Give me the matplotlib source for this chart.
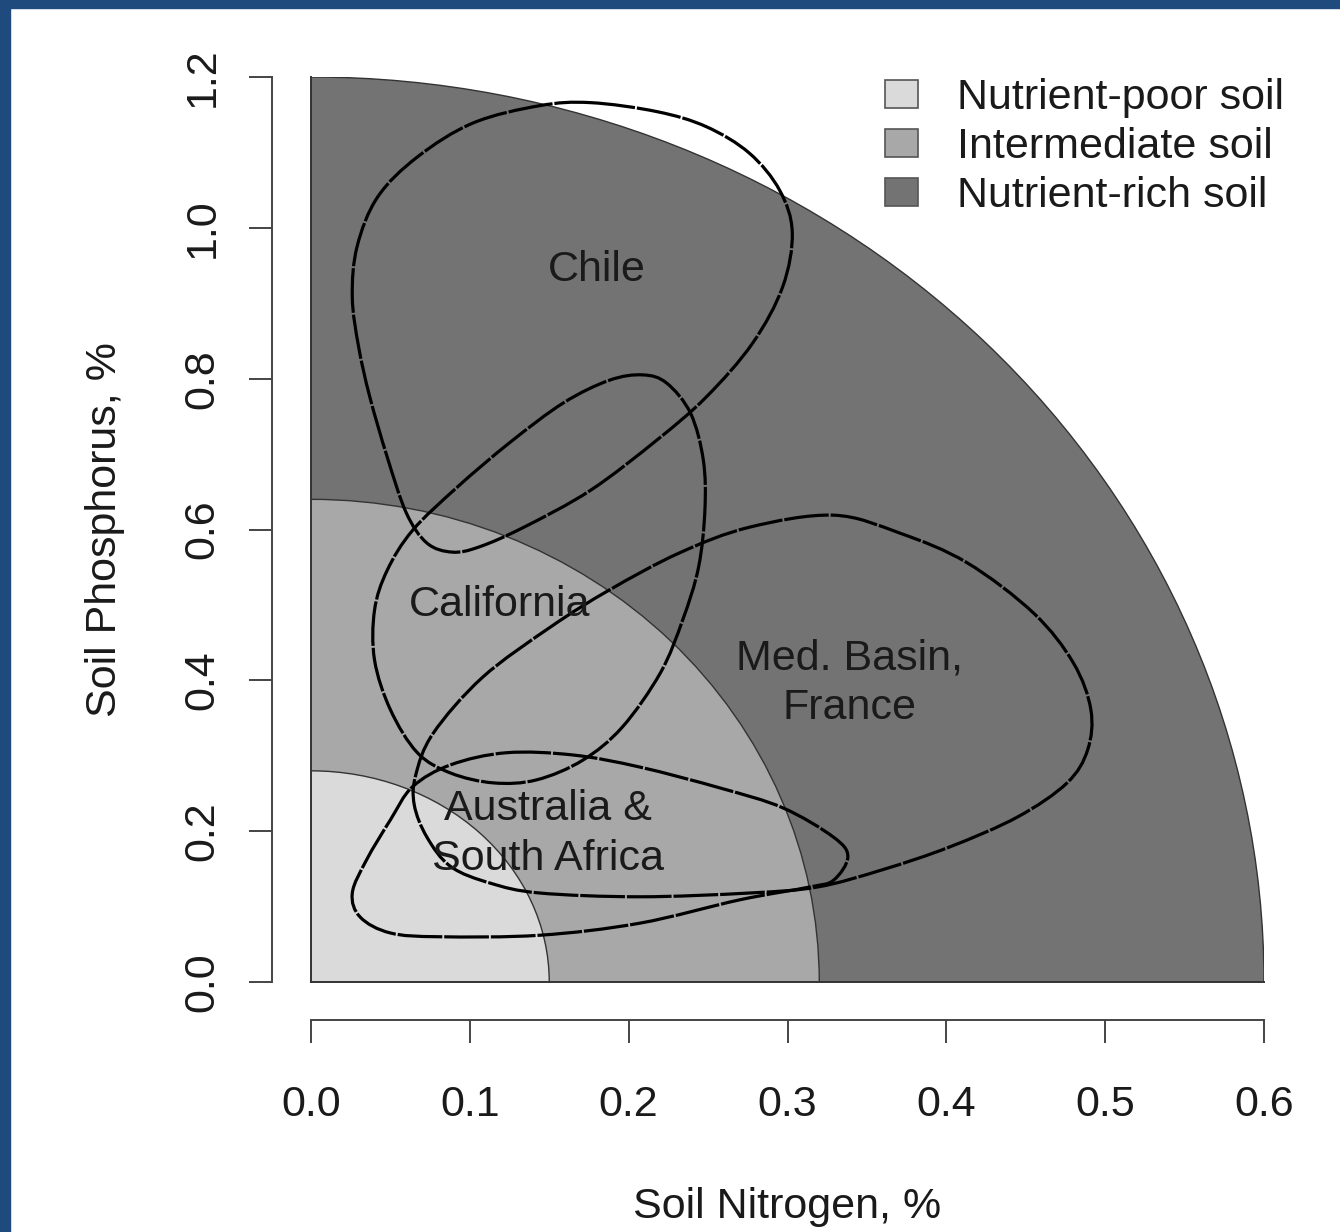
import matplotlib
matplotlib.use("Agg")
import matplotlib.pyplot as plt
from matplotlib.patches import Ellipse, Patch, PathPatch, Rectangle
from matplotlib.path import Path
import numpy as np

plt.rcParams["font.family"] = ["Liberation Sans", "DejaVu Sans"]

# soil classes: extent along N and P axes (quarter ellipses around the origin)
soil_names = ["Nutrient-rich soil", "Intermediate soil", "Nutrient-poor soil"]
soil_n_max = [0.60, 0.32, 0.15]
soil_p_max = [1.20, 0.64, 0.28]
soil_colors = ["#737373", "#a8a8a8", "#dadada"]

# regional outlines (soil N %, soil P %), clockwise
chile_n = [0.176, 0.218, 0.249, 0.276, 0.295, 0.303, 0.297, 0.278, 0.249, 0.218, 0.176, 0.134, 0.106,
           0.089, 0.073, 0.060, 0.048, 0.037, 0.030, 0.026, 0.029, 0.042, 0.067, 0.102, 0.144]
chile_p = [1.166, 1.154, 1.134, 1.099, 1.050, 0.994, 0.922, 0.847, 0.776, 0.719, 0.652, 0.603, 0.577,
           0.570, 0.582, 0.622, 0.696, 0.776, 0.842, 0.908, 0.975, 1.041, 1.094, 1.139, 1.162]

calif_n = [0.209, 0.224, 0.239, 0.247, 0.248, 0.244, 0.234, 0.220, 0.196, 0.171, 0.142, 0.115,
           0.088, 0.067, 0.050, 0.040, 0.040, 0.048, 0.064, 0.092, 0.125, 0.159, 0.188]
calif_p = [0.805, 0.794, 0.754, 0.692, 0.626, 0.550, 0.480, 0.410, 0.338, 0.294, 0.268, 0.264,
           0.277, 0.304, 0.361, 0.427, 0.493, 0.546, 0.599, 0.656, 0.715, 0.768, 0.798]

med_n = [0.329, 0.371, 0.413, 0.455, 0.480, 0.491, 0.489, 0.476, 0.445, 0.402, 0.360, 0.319, 0.276,
         0.207, 0.144, 0.113, 0.088, 0.073, 0.065, 0.066, 0.077, 0.108, 0.151, 0.188, 0.232, 0.276]
med_p = [0.619, 0.595, 0.556, 0.489, 0.423, 0.361, 0.308, 0.264, 0.219, 0.179, 0.149, 0.126, 0.118,
         0.113, 0.118, 0.131, 0.153, 0.192, 0.235, 0.275, 0.330, 0.404, 0.471, 0.520, 0.569, 0.603]

aus_n = [0.123, 0.165, 0.207, 0.258, 0.297, 0.329, 0.338, 0.329, 0.314, 0.270, 0.207, 0.144, 0.081,
         0.050, 0.031, 0.026, 0.035, 0.050, 0.064, 0.088]
aus_p = [0.304, 0.301, 0.285, 0.257, 0.231, 0.192, 0.166, 0.135, 0.126, 0.109, 0.078, 0.062, 0.060,
         0.065, 0.086, 0.118, 0.162, 0.215, 0.259, 0.288]

region_labels = ["Chile", "California", "Med. Basin,\nFrance", "Australia &\nSouth Africa"]
label_n = [0.180, 0.119, 0.339, 0.149]
label_p = [0.944, 0.500, 0.396, 0.196]

x_ticks = [0.0, 0.1, 0.2, 0.3, 0.4, 0.5, 0.6]
y_ticks = [0.0, 0.2, 0.4, 0.6, 0.8, 1.0, 1.2]


def closed_curve(xs, ys):
    # smooth closed outline through the points (Catmull-Rom as cubic Beziers)
    pts = np.column_stack([xs, ys])
    n = len(pts)
    verts = [pts[0]]
    codes = [Path.MOVETO]
    for i in range(n):
        p0, p1, p2, p3 = pts[i - 1], pts[i], pts[(i + 1) % n], pts[(i + 2) % n]
        verts += [p1 + (p2 - p0) / 6, p2 - (p3 - p1) / 6, p2]
        codes += [Path.CURVE4] * 3
    return Path(verts, codes)


fig = plt.figure(figsize=(13.4, 12.32), dpi=100)
ax = fig.add_axes([311 / 1340, 1 - 982 / 1232, 953 / 1340, 905 / 1232])

for rx, ry, col in zip(soil_n_max, soil_p_max, soil_colors):
    ax.add_patch(Ellipse((0, 0), 2 * rx, 2 * ry, facecolor=col, edgecolor="#333333", lw=1.0))
ax.axvline(0, color="#333333", lw=1.4, clip_on=False)
ax.axhline(0, color="#333333", lw=1.4, clip_on=False)

for xs, ys in [(chile_n, chile_p), (calif_n, calif_p), (med_n, med_p), (aus_n, aus_p)]:
    ax.add_patch(PathPatch(closed_curve(xs, ys), facecolor="none", edgecolor="black",
                           lw=2.3, linestyle=(0, (14, 0.6)), clip_on=False))

for txt, xn, yp in zip(region_labels, label_n, label_p):
    ax.text(xn, yp, txt, ha="center", va="center", fontsize=31, color="#1a1a1a", linespacing=1.32)

ax.set_xlim(0, 0.6)
ax.set_ylim(0, 1.2)
ax.set_xticks(x_ticks)
ax.set_xticklabels([f"{v:.1f}" for v in x_ticks])
ax.set_yticks(y_ticks)
ax.set_yticklabels([f"{v:.1f}" for v in y_ticks])

for side in ["top", "right"]:
    ax.spines[side].set_visible(False)
ax.spines["left"].set_position(("outward", 28))
ax.spines["bottom"].set_position(("outward", 27))
ax.spines["left"].set_bounds(0, 1.2)
ax.spines["bottom"].set_bounds(0, 0.6)
for side in ["left", "bottom"]:
    ax.spines[side].set_color("#444444")
    ax.spines[side].set_linewidth(1.4)
ax.tick_params(axis="both", length=16.5, width=1.4, color="#444444", labelsize=31, labelcolor="#1a1a1a")
ax.tick_params(axis="x", pad=31)
ax.tick_params(axis="y", pad=19, labelrotation=90)
for lab in ax.get_yticklabels():
    lab.set_verticalalignment("center")
ax.patch.set_visible(False)

fig.text(787.5 / 1340, 1 - 1218 / 1232, "Soil Nitrogen, %", ha="center", va="baseline",
         fontsize=31, color="#1a1a1a")
fig.text(116 / 1340, 1 - 529.5 / 1232, "Soil Phosphorus, %", ha="center", va="baseline",
         rotation=90, rotation_mode="anchor", fontsize=31, color="#1a1a1a")

handles = [Patch(facecolor=c, edgecolor="#555555", lw=1.2) for c in soil_colors[::-1]]
fig.legend(handles, soil_names[::-1], loc="upper left", bbox_to_anchor=(885 / 1340, 1 - 78 / 1232),
           frameon=False, fontsize=31, handlelength=0.77, handleheight=0.63, handletextpad=0.9,
           labelspacing=0.21, borderpad=0, borderaxespad=0, labelcolor="#1a1a1a")

# dark frame along the top and left edge
fig.patches.append(Rectangle((0, 1 - 8 / 1232), 1, 8 / 1232, transform=fig.transFigure,
                             color="#1f4a7e", zorder=10))
fig.patches.append(Rectangle((0, 0), 10 / 1340, 1, transform=fig.transFigure,
                             color="#1f4a7e", zorder=10))

fig.savefig("out.png", dpi=100)
